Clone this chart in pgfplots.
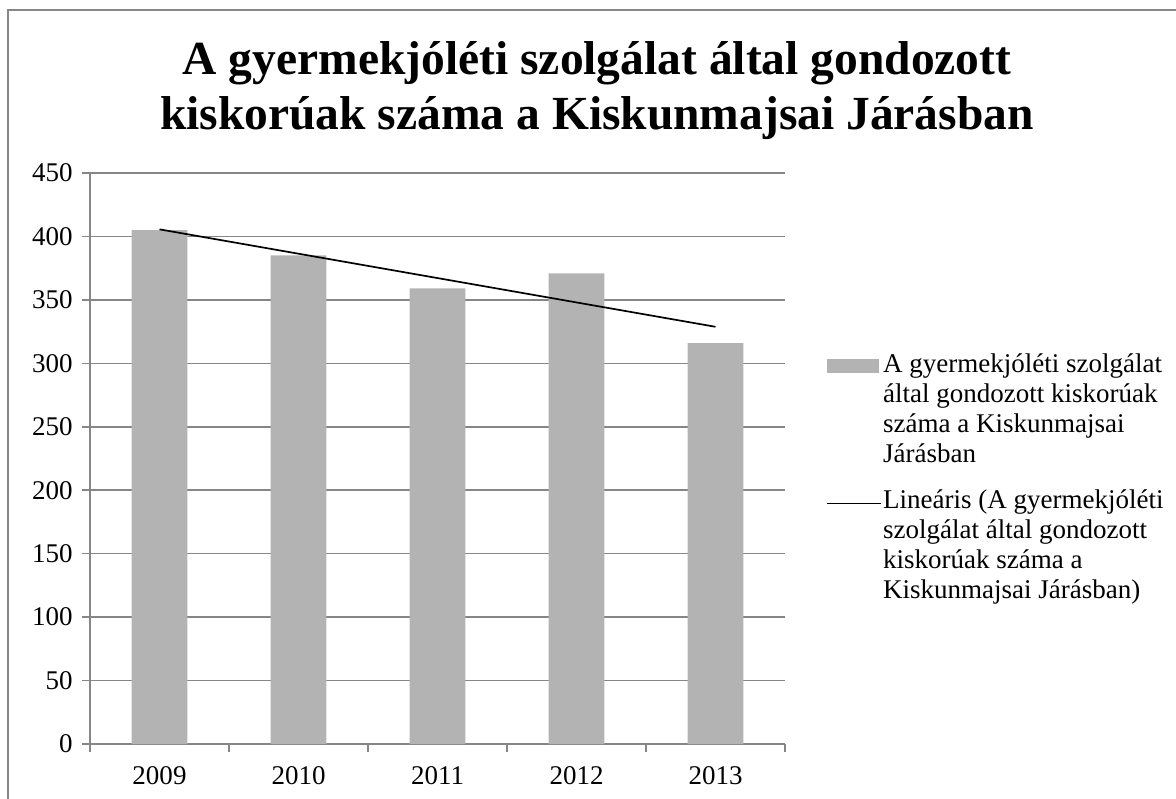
\documentclass[border=0pt]{standalone}
\usepackage{fontspec}
\setmainfont{Liberation Serif}
\usepackage{pgfplots}
\pgfplotsset{compat=1.18}
\definecolor{barc}{RGB}{179,179,179}
\definecolor{gridc}{RGB}{134,134,134}
\begin{document}
\begin{tikzpicture}[x=1pt,y=1pt]
\useasboundingbox (0,0) rectangle (588,399);
\begin{scope}
\clip (0,0) rectangle (588,399);
\draw[gridc, line width=1pt] (4,-5) -- (4,394) -- (600,394);
\end{scope}
\node[anchor=base, font=\bfseries\fontsize{23.75}{27.5}\selectfont, inner sep=0pt] at (298.5,361.5) {A gyermekjóléti szolgálat által gondozott};
\node[anchor=base, font=\bfseries\fontsize{23.75}{27.5}\selectfont, inner sep=0pt] at (298.5,334) {kiskorúak száma a Kiskunmajsai Járásban};
\begin{axis}[
  at={(45pt,27pt)}, anchor=south west, scale only axis,
  width=347.5pt, height=285.5pt,
  xmin=-0.5, xmax=4.5, ymin=0, ymax=450,
  ytick={0,50,...,450},
  xtick={-0.5,0.5,1.5,2.5,3.5,4.5},
  x tick label as interval,
  xticklabels={2009,2010,2011,2012,2013},
  axis lines*=left,
  axis line style={gridc, line width=0.75pt, -},
  ymajorgrids,
  grid style={gridc, line width=0.75pt},
  tick align=outside,
  major tick length=4pt,
  tick style={gridc, line width=0.75pt},
  tick label style={font=\fontsize{13.5}{15}\selectfont},
  /pgf/number format/assume math mode=true,
  yticklabel style={inner sep=0pt},
  xticklabel style={inner sep=0pt},
  yticklabel shift=4.5pt,
  xticklabel shift=7pt,
  legend style={at={(1.059,0.684)}, anchor=north west, draw=none, fill=none,
    inner sep=0pt, font=\fontsize{13.5}{15}\selectfont,
    nodes={inner sep=0pt, text depth=45pt}, row sep=13.5pt, column sep=0.5pt,
    cells={anchor=base west}},
]
\addplot[ybar, bar width=0.4, fill=barc, draw=none,
  legend image code/.code={\fill[barc] (0pt,0pt) rectangle (26pt,7pt);}]
  coordinates {(0,405) (1,385) (2,359) (3,371) (4,316)};
\addlegendentry{\vtop{\hbox{A gyermekjóléti szolgálat}\hbox{által gondozott kiskorúak}\hbox{száma a Kiskunmajsai}\hbox{Járásban}}}
\addplot[black, line width=0.85pt, mark=none,
  legend image code/.code={\draw[black, line width=0.85pt] (0pt,2.5pt) -- (27pt,2.5pt);}]
  coordinates {(0,405.6) (4,328.8)};
\addlegendentry{\vtop{\hbox{Lineáris (A gyermekjóléti}\hbox{szolgálat által gondozott}\hbox{kiskorúak száma a}\hbox{Kiskunmajsai Járásban)}}}
\end{axis}
\end{tikzpicture}
\end{document}
